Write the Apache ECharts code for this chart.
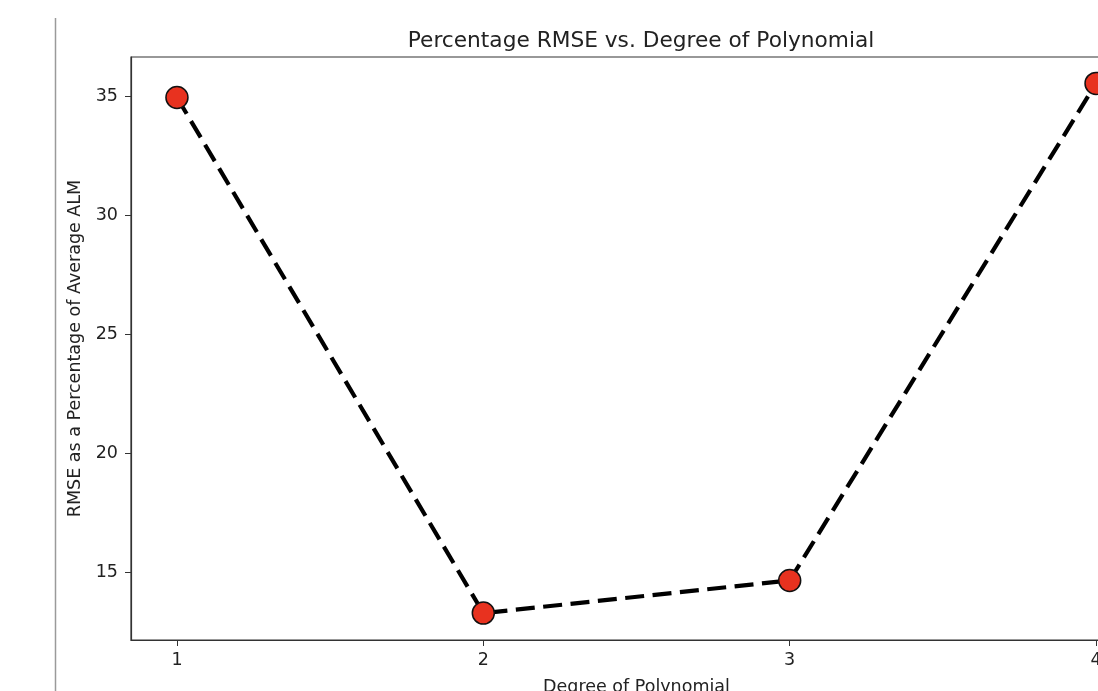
<!DOCTYPE html>
<html><head><meta charset="utf-8">
<script src="https://cdn.jsdelivr.net/npm/echarts@6/dist/echarts.min.js"></script>
<style>html,body{margin:0;padding:0;background:#fff;overflow:hidden}#c{width:1098px;height:691px}</style>
</head><body><div id="c"></div>
<script>
const degrees = [1, 2, 3, 4];
const rmsePct = [34.96, 13.29, 14.66, 35.55];
const yTicks = [15, 20, 25, 30, 35];
const xTicks = [1, 2, 3, 4];
const titleText = 'Percentage RMSE vs. Degree of Polynomial';
const xName = 'Degree of Polynomial';
const yName = 'RMSE as a Percentage of Average ALM';

const font = 'DejaVu Sans';
const chart = echarts.init(document.getElementById('c'), null, {renderer: 'canvas'});
chart.setOption({
  animation: false,
  backgroundColor: '#fff',
  title: {text: titleText, left: 636, top: 25, textAlign: 'center',
    textStyle: {fontFamily: font, fontSize: 21.7, fontWeight: 'normal', color: '#222'}},
  graphic: [{type: 'line', shape: {x1: 55.5, y1: 18, x2: 55.5, y2: 691},
    style: {stroke: '#9a9a9a', lineWidth: 1.5}}],
  grid: {left: 131, top: 57, width: 1011, height: 583, show: true,
    outerBoundsMode: 'none', containLabel: false,
    borderColor: '#333', borderWidth: 1.2, backgroundColor: 'transparent'},
  xAxis: {type: 'value', min: 0.85, max: 4.15,
    name: xName, nameLocation: 'middle', nameGap: 38,
    nameTextStyle: {fontFamily: font, fontSize: 17.5, color: '#222'},
    axisLine: {show: true, lineStyle: {color: '#333', width: 1.2}},
    axisTick: {show: true, length: 6, lineStyle: {color: '#333'}, customValues: xTicks},
    axisLabel: {fontFamily: font, fontSize: 17.5, color: '#222', margin: 11, customValues: xTicks},
    splitLine: {show: false}},
  yAxis: {type: 'value', min: 12.16, max: 36.66,
    name: yName, nameLocation: 'middle', nameGap: 46,
    nameTextStyle: {fontFamily: font, fontSize: 17.5, color: '#222'},
    axisLine: {show: true, lineStyle: {color: '#333', width: 1.2}},
    axisTick: {show: true, length: 6, lineStyle: {color: '#333'}, customValues: yTicks},
    axisLabel: {fontFamily: font, fontSize: 17.5, color: '#222', margin: 13, customValues: yTicks},
    splitLine: {show: false}},
  series: [{type: 'line', data: degrees.map((d, i) => [d, rmsePct[i]]),
    lineStyle: {color: '#000', width: 4.2, type: [19, 8.5]},
    symbol: 'circle', symbolSize: 22,
    itemStyle: {color: '#e8321f', borderColor: '#111', borderWidth: 1.5},
    clip: false}]
});
</script></body></html>
